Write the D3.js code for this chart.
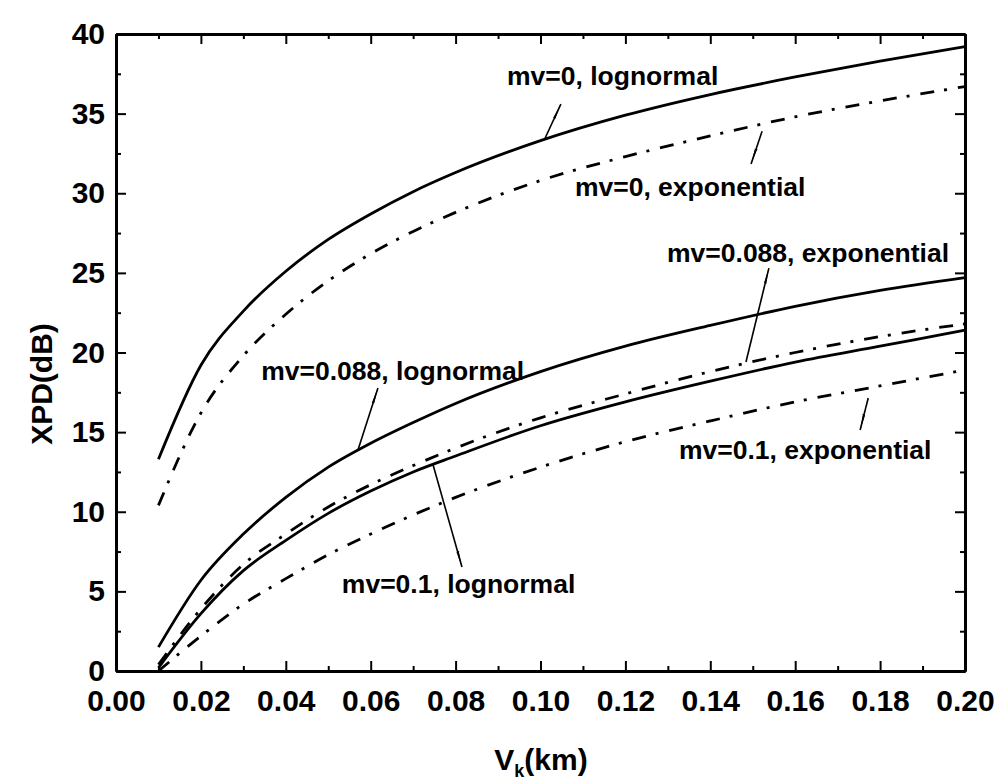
<!DOCTYPE html>
<html>
<head>
<meta charset="utf-8">
<script src="https://cdn.jsdelivr.net/npm/d3@7/dist/d3.min.js"></script>
<style>
  html, body { margin: 0; padding: 0; background: #fff; }
  svg { display: block; }
  text { font-family: "Liberation Sans", Arial, sans-serif; font-weight: bold; fill: #000; }
</style>
</head>
<body>
<svg id="chart" width="1000" height="784"></svg>
<script>
// Path length V_k (km) at which XPD was evaluated
const vk = [0.01, 0.02, 0.03, 0.04, 0.05, 0.06, 0.07, 0.08, 0.10, 0.12, 0.14, 0.16, 0.18, 0.20];

// XPD (dB) for each case
const mv0Lognormal     = [13.3, 19.2, 22.6, 25.1, 27.1, 28.7, 30.1, 31.3, 33.3, 34.9, 36.2, 37.3, 38.3, 39.2];
const mv0Exponential   = [10.4, 16.2, 19.8, 22.4, 24.5, 26.2, 27.6, 28.8, 30.8, 32.3, 33.6, 34.8, 35.8, 36.7];
const mv088Lognormal   = [1.5, 5.7, 8.6, 10.9, 12.8, 14.3, 15.6, 16.8, 18.8, 20.4, 21.7, 22.9, 23.9, 24.7];
const mv088Exponential = [0.4, 3.9, 6.7, 8.6, 10.3, 11.7, 12.9, 14.0, 15.9, 17.4, 18.8, 20.0, 21.0, 21.8];
const mv01Lognormal    = [0.2, 3.6, 6.3, 8.2, 9.9, 11.3, 12.5, 13.5, 15.4, 16.9, 18.2, 19.4, 20.4, 21.4];
const mv01Exponential  = [0.0, 2.2, 4.2, 5.8, 7.3, 8.6, 9.8, 10.9, 12.8, 14.4, 15.7, 16.9, 17.9, 18.9];

const seriesList = [
  { name: "mv=0, lognormal",       values: mv0Lognormal,     dashed: false },
  { name: "mv=0, exponential",     values: mv0Exponential,   dashed: true  },
  { name: "mv=0.088, lognormal",   values: mv088Lognormal,   dashed: false },
  { name: "mv=0.088, exponential", values: mv088Exponential, dashed: true  },
  { name: "mv=0.1, lognormal",     values: mv01Lognormal,    dashed: false },
  { name: "mv=0.1, exponential",   values: mv01Exponential,  dashed: true  }
];

// Axis ticks
const xMajorTicks = [0, 0.02, 0.04, 0.06, 0.08, 0.10, 0.12, 0.14, 0.16, 0.18, 0.20];
const xMinorTicks = [0.01, 0.03, 0.05, 0.07, 0.09, 0.11, 0.13, 0.15, 0.17, 0.19];
const yMajorTicks = [0, 5, 10, 15, 20, 25, 30, 35, 40];
const yMinorTicks = [2.5, 7.5, 12.5, 17.5, 22.5, 27.5, 32.5, 37.5];

// Curve labels: text anchor, and arrow from the curve to the label (data units)
const labelText  = ["mv=0, lognormal", "mv=0, exponential", "mv=0.088, exponential",
                    "mv=0.088, lognormal", "mv=0.1, exponential", "mv=0.1, lognormal"];
const labelX     = [0.0921, 0.1081, 0.1298, 0.0342, 0.1326, 0.0532];
const labelY     = [36.8, 29.8, 25.7, 18.3, 13.3, 4.9];
const arrowFromX = [0.1011, 0.1522, 0.1484, 0.0570, 0.1772, 0.0747];
const arrowFromY = [33.47, 33.9, 19.4, 13.88, 17.14, 12.94];
const arrowToX   = [0.1048, 0.1496, 0.1538, 0.0617, 0.1753, 0.0815];
const arrowToY   = [35.6, 31.84, 25.3, 17.77, 15.13, 6.53];

const svg = d3.select("#chart");

const x = d3.scaleLinear().domain([0, 0.2]).range([116, 965]);
const y = d3.scaleLinear().domain([0, 40]).range([671, 34]);

// ---- axes: ticks point into the plot on all four sides ----
function styleAxis(g, width) {
  g.selectAll(".domain").attr("stroke", "#000").attr("stroke-width", 3);
  g.selectAll(".tick line").attr("stroke", "#000").attr("stroke-width", width);
}

const bottom = svg.append("g").attr("transform", `translate(0,${y(0)})`)
  .call(d3.axisBottom(x).tickValues(xMajorTicks).tickSize(-10).tickSizeOuter(0)
    .tickPadding(19).tickFormat(d3.format(".2f")));
styleAxis(bottom, 2);
bottom.selectAll("text").style("font-size", "30px").style("font-family", "'Liberation Sans', Arial, sans-serif").style("font-weight", "bold");

svg.append("g").attr("transform", `translate(0,${y(0)})`)
  .call(d3.axisBottom(x).tickValues(xMinorTicks).tickSize(-5).tickSizeOuter(0).tickFormat(""))
  .call(g => styleAxis(g, 2));

const left = svg.append("g").attr("transform", `translate(${x(0)},0)`)
  .call(d3.axisLeft(y).tickValues(yMajorTicks).tickSize(-10).tickSizeOuter(0)
    .tickPadding(11).tickFormat(d3.format("d")));
styleAxis(left, 2);
left.selectAll("text").style("font-size", "30px").style("font-family", "'Liberation Sans', Arial, sans-serif").style("font-weight", "bold");

svg.append("g").attr("transform", `translate(${x(0)},0)`)
  .call(d3.axisLeft(y).tickValues(yMinorTicks).tickSize(-5).tickSizeOuter(0).tickFormat(""))
  .call(g => styleAxis(g, 2));

svg.append("g").attr("transform", `translate(0,${y(40)})`)
  .call(d3.axisTop(x).tickValues(xMajorTicks).tickSize(-10).tickSizeOuter(0).tickFormat(""))
  .call(g => styleAxis(g, 2));
svg.append("g").attr("transform", `translate(0,${y(40)})`)
  .call(d3.axisTop(x).tickValues(xMinorTicks).tickSize(-5).tickSizeOuter(0).tickFormat(""))
  .call(g => styleAxis(g, 2));

svg.append("g").attr("transform", `translate(${x(0.2)},0)`)
  .call(d3.axisRight(y).tickValues(yMajorTicks).tickSize(-10).tickSizeOuter(0).tickFormat(""))
  .call(g => styleAxis(g, 2));
svg.append("g").attr("transform", `translate(${x(0.2)},0)`)
  .call(d3.axisRight(y).tickValues(yMinorTicks).tickSize(-5).tickSizeOuter(0).tickFormat(""))
  .call(g => styleAxis(g, 2));

// ---- axis titles ----
svg.append("text")
  .attr("transform", `translate(52,384) rotate(-90)`)
  .attr("text-anchor", "middle")
  .style("font-size", "30px")
  .text("XPD(dB)");

const xt = svg.append("text")
  .attr("x", 541).attr("y", 770)
  .attr("text-anchor", "middle")
  .style("font-size", "30px");
xt.append("tspan").text("V");
xt.append("tspan").attr("dy", 7).style("font-size", "18px").text("k");
xt.append("tspan").attr("dy", -7).text("(km)");

// ---- curves ----
const line = d3.line()
  .x((d, i) => x(vk[i]))
  .y(d => y(d))
  .curve(d3.curveMonotoneX);

svg.append("g").selectAll("path")
  .data(seriesList)
  .join("path")
  .attr("d", s => line(s.values))
  .attr("fill", "none")
  .attr("stroke", "#000")
  .attr("stroke-width", 2.8)
  .attr("stroke-linejoin", "round")
  .attr("stroke-dasharray", s => s.dashed ? "14 10 3 11" : null);

// ---- curve labels with pointer arrows ----
svg.append("defs").append("marker")
  .attr("id", "wedge")
  .attr("viewBox", "0 0 16 6")
  .attr("refX", 16).attr("refY", 3)
  .attr("markerWidth", 16).attr("markerHeight", 6)
  .attr("markerUnits", "userSpaceOnUse")
  .attr("orient", "auto")
  .append("path")
  .attr("d", "M0,1.8 L16,3 L0,4.2 L-2,3 Z")
  .attr("fill", "#000");

const notes = svg.append("g");
labelText.forEach((t, i) => {
  notes.append("line")
    .attr("x1", x(arrowFromX[i])).attr("y1", y(arrowFromY[i]))
    .attr("x2", x(arrowToX[i])).attr("y2", y(arrowToY[i]))
    .attr("stroke", "#000").attr("stroke-width", 1.6)
    .attr("marker-end", "url(#wedge)");
  notes.append("text")
    .attr("x", x(labelX[i])).attr("y", y(labelY[i]))
    .style("font-size", "26.5px")
    .text(t);
});
</script>
</body>
</html>
